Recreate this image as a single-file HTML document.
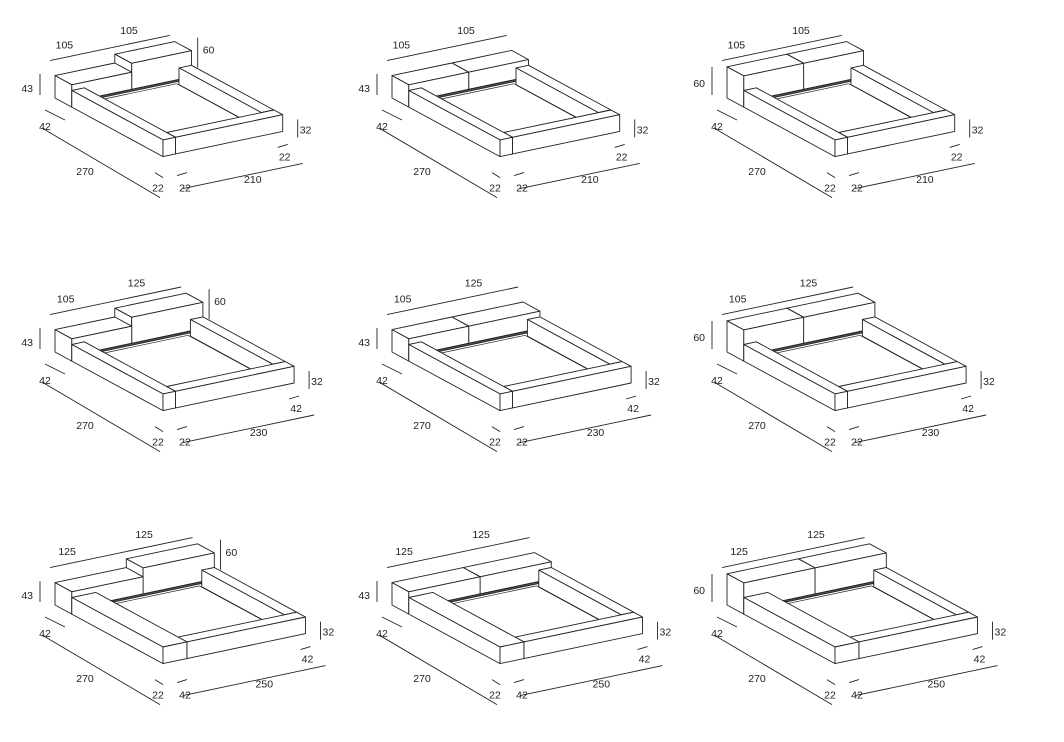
<!DOCTYPE html>
<html><head><meta charset="utf-8"><style>
html,body{margin:0;padding:0;background:#fff;}
svg{display:block;}
text{font-family:"Liberation Sans",sans-serif;font-size:10.5px;fill:#222;text-anchor:middle;}
</style></head><body>
<svg id="s" width="1064" height="742" viewBox="0 0 1064 742" xmlns="http://www.w3.org/2000/svg"></svg>
<script>
var S=document.getElementById('s'),out='';
var ux=0.57,uy=-0.12,dx=0.4,dy=0.217,hh=0.52;
function cell(ox,oy,W,a,hL,hR,rowType){
 function P(x,y,z){return [ox+x*ux+y*dx, oy+x*uy+y*dy-z*hh];}
 function poly(pts,fill){out+='<polygon points="'+pts.map(function(p){var q=P(p[0],p[1],p[2]);return q[0].toFixed(1)+','+q[1].toFixed(1);}).join(' ')+'" fill="'+(fill||'#fff')+'" stroke="#222" stroke-width="0.9" stroke-linejoin="round"/>';}
 function box(x0,x1,y0,y1,z0,z1){
  poly([[x0,y0,z1],[x1,y0,z1],[x1,y1,z1],[x0,y1,z1]]);
  poly([[x0,y0,z0],[x0,y1,z0],[x0,y1,z1],[x0,y0,z1]]);
  poly([[x0,y1,z0],[x1,y1,z0],[x1,y1,z1],[x0,y1,z1]]);
 }
 function line(p,q,w){out+='<line x1="'+p[0].toFixed(1)+'" y1="'+p[1].toFixed(1)+'" x2="'+q[0].toFixed(1)+'" y2="'+q[1].toFixed(1)+'" stroke="#222" stroke-width="'+(w||0.9)+'"/>';}
 function add(p,o){return [p[0]+o[0],p[1]+o[1]];}
 function txt(p,t,anchor){out+='<text x="'+p[0].toFixed(1)+'" y="'+p[1].toFixed(1)+'"'+(anchor?' style="text-anchor:'+anchor+'"':'')+'>'+t+'</text>';}
 var L=270, lw=(rowType==3?42:22), fr=22;
 box(a,W,0,42,0,hR);
 box(0,a,0,42,0,hL);
 poly([[lw,42,10],[W-22,42,10],[W-22,L-fr,10],[lw,L-fr,10]]);
 poly([[lw,42,10],[W-22,42,10],[W-22,48,10],[lw+6,48,10]],'#555');
 poly([[W-28,48,10],[W-22,48,10],[W-22,L-fr-6,10],[W-28,L-fr-6,10]],'#555');
 line(P(lw,55,10),P(W-35,55,10),0.7);
 line(P(W-35,55,10),P(W-35,L-fr-6,10),0.7);
 box(W-22,W,42,L-fr,0,32);
 box(lw,W,L-fr,L,0,32);
 box(0,lw,42,L,0,32);
 var A=add(P(0,0,43),[-5,-15]),B=add(P(W,0,43),[-5,-15]);
 line(A,B);
 var m1=[A[0]+(B[0]-A[0])*0.12,A[1]+(B[1]-A[1])*0.12-9];
 var m2=[A[0]+(B[0]-A[0])*0.66,A[1]+(B[1]-A[1])*0.66-10];
 txt(m1,a);txt(m2,W-a);
 var o=P(0,0,0);
 if(hL==60){line([o[0]-15,o[1]-31],[o[0]-15,o[1]-3]);txt([o[0]-22,o[1]-11],'60','end');}
 else{line([o[0]-15,o[1]-24],[o[0]-15,o[1]-3]);txt([o[0]-22,o[1]-6],'43','end');}
 if(hL!=hR){var t=P(W,0,60);line([t[0]+23,t[1]-4],[t[0]+23,t[1]+26]);txt([t[0]+28,t[1]+12],'60','start');}
 line(add(o,[-10,12]),add(o,[10,22]));txt(add(o,[-10,32]),'42');
 var fl=P(0,L,0);
 line(add(o,[-13,30]),add(fl,[-3,41]));txt(add(o,[30,77]),'270');
 line(add(fl,[-8,16]),add(fl,[0,21]));txt(add(fl,[-5,35]),'22');
 line(add(fl,[14,19]),add(fl,[24,16]));txt(add(fl,[22,35]),rowType==3?'42':'22');
 var fr2=P(W,L,0);
 line(add(fl,[20,32]),add(fr2,[20,32]));
 txt([(fl[0]+fr2[0])/2+30,(fl[1]+fr2[1])/2+39],W);
 line(add(fr2,[-5,16]),add(fr2,[5,13]));txt(add(fr2,[2,29]),rowType==1?'22':'42');
 line([fr2[0]+15,fr2[1]-12],[fr2[0]+15,fr2[1]+6]);txt([fr2[0]+17,fr2[1]+2],'32','start');
}
var cols=[[55,43,60],[392,43,43],[727,60,60]];
var rows=[[98,210,105,1],[352,230,105,2],[605,250,125,3]];
rows.forEach(function(r){cols.forEach(function(c){cell(c[0],r[0],r[1],r[2],c[1],c[2],r[3]);});});
S.innerHTML=out;
</script>
</body></html>
